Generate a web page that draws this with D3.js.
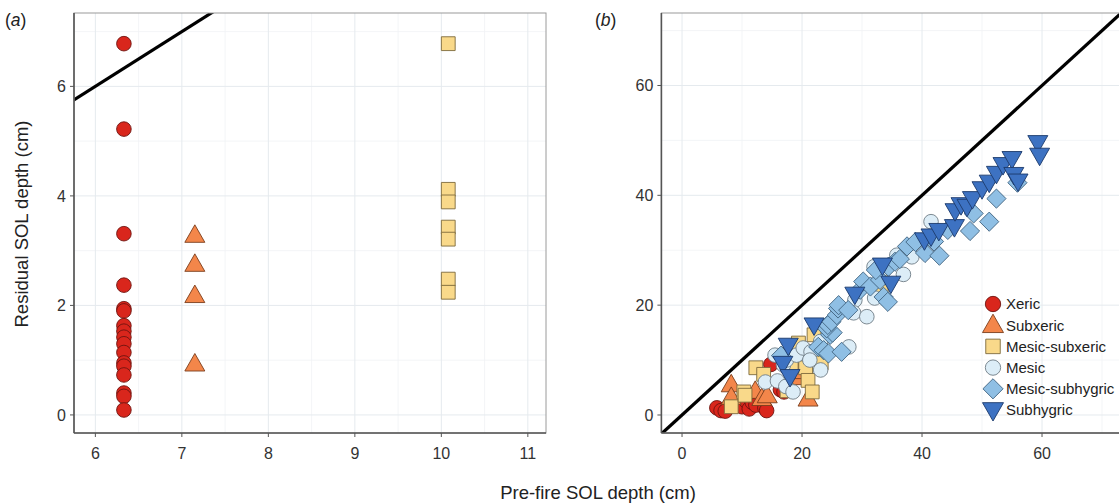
<!DOCTYPE html>
<html>
<head>
<meta charset="utf-8">
<script src="https://cdn.jsdelivr.net/npm/d3@7"></script>
<style>
  body { margin: 0; background: #fff; }
  text { font-family: "Liberation Sans", Arial, sans-serif; }
  .tick-label { font-size: 16px; fill: #333; }
  .axis-title { font-size: 18.5px; fill: #222; }
  .panel-tag { font-size: 17.5px; fill: #222; }
  .legend-label { font-size: 15px; fill: #222; }
</style>
</head>
<body>
<div id="wrapper"></div>
<script>
// panel (a): [pre-fire, residual]
const xericA = [[6.33,6.78],[6.33,5.22],[6.33,3.31],[6.33,2.37],[6.33,1.94],[6.33,1.9],[6.33,1.63],
  [6.33,1.53],[6.33,1.42],[6.33,1.3],[6.33,1.14],[6.33,0.95],[6.33,0.89],[6.33,0.73],
  [6.33,0.4],[6.33,0.34],[6.33,0.09]]
const subxericA = [[7.15,3.28],[7.15,2.75],[7.15,2.18],[7.15,0.93]]
const mesicSubxericA = [[10.08,6.78],[10.08,4.12],[10.08,3.89],[10.08,3.43],[10.08,3.21],[10.08,2.48],[10.08,2.24]]

// panel (b)
const xericB = [[5.8,1.3],[6.5,0.8],[7.2,0.7],[9.5,2.2],[10.0,1.5],[10.5,3.0],[10.8,2.4],[11.2,1.1],
  [11.7,2.3],[12.3,1.8],[13.8,1.3],[14.1,0.8],[14.8,9.2],[16.4,4.6],[17.0,4.2]]
const subxericB = [[8.2,5.5],[8.2,3.2],[12.2,4.3],[13.3,3.0],[14.2,3.5],[19.1,6.8],[19.7,7.9],[21.0,2.9]]
const mesicSubxericB = [[8.2,1.5],[10.3,4.2],[10.5,3.6],[12.3,8.6],[13.6,7.4],[17.5,4.4],[18.2,9.1],
  [19.4,13.1],[20.6,8.6],[21.0,6.3],[21.7,4.2],[22.0,14.6],[23.1,11.2],[23.2,9.5],[33.3,25.9],[33.2,22.5]]
const mesicB = [[13.9,6.0],[15.9,6.2],[17.3,5.2],[18.5,4.2],[16.9,9.1],[15.5,10.9],[17.4,10.0],[19.1,10.9],
  [20.2,12.2],[21.5,11.5],[23.1,13.4],[23.1,8.2],[21.3,10.0],[27.8,12.4],[28.8,20.9],[28.6,18.6],
  [30.8,17.9],[32.1,21.3],[32.0,27.0],[33.0,26.2],[36.9,25.6],[35.8,29.1],[38.3,28.8],[41.5,35.2]]
const mesicSubhygricB = [[16.5,10.8],[22.7,12.4],[23.6,11.8],[24.4,11.2],[26.6,11.5],[24.7,14.6],[25.1,15.0],
  [24.1,15.8],[24.3,16.4],[24.9,17.0],[25.8,18.2],[26.0,19.4],[26.1,20.0],[27.7,19.1],[29.7,22.8],
  [30.2,24.3],[31.4,23.4],[33.6,21.5],[34.3,20.6],[33.0,24.6],[32.3,26.4],[34.4,27.0],[35.5,27.9],
  [36.3,28.4],[37.5,30.7],[38.9,31.5],[40.5,29.5],[42.9,29.0],[42.0,31.6],[44.3,33.7],[48.0,33.5],
  [48.6,36.7],[51.2,35.2],[52.4,39.4],[55.9,42.3]]
const subhygricB = [[16.8,9.4],[17.7,12.7],[18.0,7.0],[22.0,16.4],[28.8,22.0],[33.4,27.3],[34.8,24.0],
  [40.4,31.9],[41.5,32.6],[42.8,33.6],[45.4,34.3],[45.5,37.2],[46.5,38.3],[47.5,38.0],[48.4,39.4],
  [50.0,41.2],[51.2,42.4],[52.4,44.0],[53.5,45.6],[55.0,46.7],[55.3,43.8],[56.0,42.6],[59.3,49.6],[59.6,47.3]]

const groupNames = ["Xeric", "Subxeric", "Mesic-subxeric", "Mesic", "Mesic-subhygric", "Subhygric"]
const ticksA = { x: [6, 7, 8, 9, 10, 11], y: [0, 2, 4, 6] }
const ticksB = { x: [0, 20, 40, 60], y: [0, 20, 40, 60] }

const groupStyle = {
  "Xeric":           { shape: "circle",   fill: "#d9261c", stroke: "#6e1410" },
  "Subxeric":        { shape: "triangle", fill: "#f3864a", stroke: "#7a3d1c" },
  "Mesic-subxeric":  { shape: "square",   fill: "#f9d98a", stroke: "#7d6a3c" },
  "Mesic":           { shape: "circle",   fill: "#dcedf7", stroke: "#6f7d86" },
  "Mesic-subhygric": { shape: "diamond",  fill: "#8fbfe4", stroke: "#40627f" },
  "Subhygric":       { shape: "triDown",  fill: "#3d72c2", stroke: "#1c3a6b" },
}

const shapePath = (shape, k = 1) => {
  const p = d3.path()
  if (shape == "circle") {
    p.arc(0, 0, 7.3 * k, 0, Math.PI * 2)
  } else if (shape == "triangle") {
    const w = 10 * k
    p.moveTo(0, -10.5 * k); p.lineTo(w, 7 * k); p.lineTo(-w, 7 * k); p.closePath()
  } else if (shape == "triDown") {
    const w = 10 * k
    p.moveTo(0, 10.5 * k); p.lineTo(w, -7 * k); p.lineTo(-w, -7 * k); p.closePath()
  } else if (shape == "square") {
    const s = 6.9 * k
    p.rect(-s, -s, 2 * s, 2 * s)
  } else if (shape == "diamond") {
    const s = 9.6 * k
    p.moveTo(0, -s); p.lineTo(s, 0); p.lineTo(0, s); p.lineTo(-s, 0); p.closePath()
  }
  return p.toString()
}

function drawChart() {

  // 1. Dimensions

  const dimensions = { width: 1119, height: 504, top: 13, bottom: 433 }

  const svg = d3.select("#wrapper")
    .append("svg")
      .attr("width", dimensions.width)
      .attr("height", dimensions.height)

  // 2. Scales

  const panels = [
    {
      id: "a",
      x: d3.scaleLinear().domain([5.753, 11.21]).range([74, 546]),
      y: d3.scaleLinear().domain([-0.33, 7.34]).range([dimensions.bottom, dimensions.top]),
      ticks: ticksA,
      minor: { x: [6.5, 7.5, 8.5, 9.5, 10.5], y: [1, 3, 5, 7] },
      tagX: 5,
      data: [["Xeric", xericA], ["Subxeric", subxericA], ["Mesic-subxeric", mesicSubxericA]],
    },
    {
      id: "b",
      x: d3.scaleLinear().domain([-3.44, 73.83]).range([661.4, 1125]),
      y: d3.scaleLinear().domain([-3.28, 73.2]).range([dimensions.bottom, dimensions.top]),
      ticks: ticksB,
      minor: { x: [10, 30, 50, 70], y: [10, 30, 50, 70] },
      tagX: 595,
      data: [["Xeric", xericB], ["Subxeric", subxericB], ["Mesic-subxeric", mesicSubxericB],
             ["Mesic", mesicB], ["Mesic-subhygric", mesicSubhygricB], ["Subhygric", subhygricB]],
    },
  ]

  // 3. Panels

  panels.forEach(panel => {
    const [x0, x1] = panel.x.range()
    const g = svg.append("g")

    g.append("clipPath").attr("id", "clip-" + panel.id)
      .append("rect")
        .attr("x", x0).attr("y", dimensions.top)
        .attr("width", x1 - x0).attr("height", dimensions.bottom - dimensions.top)

    // grid
    const grid = g.append("g")
    grid.selectAll(".minor-x").data(panel.minor.x).join("line")
        .attr("x1", d => panel.x(d)).attr("x2", d => panel.x(d))
        .attr("y1", dimensions.top).attr("y2", dimensions.bottom)
        .attr("stroke", "#f0f3f5").attr("stroke-width", 0.8)
    grid.selectAll(".minor-y").data(panel.minor.y).join("line")
        .attr("x1", x0).attr("x2", x1)
        .attr("y1", d => panel.y(d)).attr("y2", d => panel.y(d))
        .attr("stroke", "#f0f3f5").attr("stroke-width", 0.8)
    grid.selectAll(".major-x").data(panel.ticks.x).join("line")
        .attr("x1", d => panel.x(d)).attr("x2", d => panel.x(d))
        .attr("y1", dimensions.top).attr("y2", dimensions.bottom)
        .attr("stroke", "#e5eaee").attr("stroke-width", 1)
    grid.selectAll(".major-y").data(panel.ticks.y).join("line")
        .attr("x1", x0).attr("x2", x1)
        .attr("y1", d => panel.y(d)).attr("y2", d => panel.y(d))
        .attr("stroke", "#e5eaee").attr("stroke-width", 1)

    // 1:1 line
    const lineDomain = [-10, 100]
    g.append("line")
        .attr("clip-path", `url(#clip-${panel.id})`)
        .attr("x1", panel.x(lineDomain[0])).attr("y1", panel.y(lineDomain[0]))
        .attr("x2", panel.x(lineDomain[1])).attr("y2", panel.y(lineDomain[1]))
        .attr("stroke", "#000").attr("stroke-width", 3.2)

    // points
    panel.data.forEach(([name, values]) => {
      const style = groupStyle[name]
      g.append("g").selectAll("path").data(values).join("path")
          .attr("d", shapePath(style.shape))
          .attr("transform", d => `translate(${panel.x(d[0])},${panel.y(d[1])})`)
          .attr("fill", style.fill)
          .attr("stroke", style.stroke)
          .attr("stroke-width", 0.9)
    })

    // border + axes
    g.append("rect")
        .attr("x", x0).attr("y", dimensions.top)
        .attr("width", x1 - x0).attr("height", dimensions.bottom - dimensions.top)
        .attr("fill", "none").attr("stroke", "#9a9a9a").attr("stroke-width", 1)
    g.append("line")
        .attr("x1", x0).attr("x2", x1).attr("y1", dimensions.bottom).attr("y2", dimensions.bottom)
        .attr("stroke", "#555").attr("stroke-width", 1.6)
    g.append("line")
        .attr("x1", x0).attr("x2", x0).attr("y1", dimensions.top).attr("y2", dimensions.bottom)
        .attr("stroke", "#555").attr("stroke-width", 1.6)

    g.selectAll(".xtick").data(panel.ticks.x).join("line")
        .attr("x1", d => panel.x(d)).attr("x2", d => panel.x(d))
        .attr("y1", dimensions.bottom).attr("y2", dimensions.bottom + 4)
        .attr("stroke", "#555")
    g.selectAll(".xlab").data(panel.ticks.x).join("text")
        .attr("class", "tick-label")
        .attr("x", d => panel.x(d)).attr("y", dimensions.bottom + 26)
        .attr("text-anchor", "middle")
        .text(d => d)
    g.selectAll(".ytick").data(panel.ticks.y).join("line")
        .attr("x1", x0 - 4).attr("x2", x0)
        .attr("y1", d => panel.y(d)).attr("y2", d => panel.y(d))
        .attr("stroke", "#555")
    g.selectAll(".ylab").data(panel.ticks.y).join("text")
        .attr("class", "tick-label")
        .attr("x", x0 - 8).attr("y", d => panel.y(d) + 6)
        .attr("text-anchor", "end")
        .text(d => d)

    const tag = g.append("text").attr("class", "panel-tag")
        .attr("x", panel.tagX).attr("y", 26)
    tag.append("tspan").text("(")
    tag.append("tspan").style("font-style", "italic").text(panel.id)
    tag.append("tspan").text(")")
  })

  // 4. Titles

  svg.append("text").attr("class", "axis-title")
      .attr("x", 598).attr("y", 499)
      .attr("text-anchor", "middle")
      .text("Pre-fire SOL depth (cm)")
  svg.append("text").attr("class", "axis-title")
      .attr("transform", "translate(28,224) rotate(-90)")
      .attr("text-anchor", "middle")
      .text("Residual SOL depth (cm)")

  // 5. Legend

  const legend = svg.append("g").attr("transform", "translate(993,304)")
  groupNames.forEach((name, i) => {
    const style = groupStyle[name]
    const row = legend.append("g").attr("transform", `translate(0,${i * 21.2})`)
    row.append("path")
        .attr("d", shapePath(style.shape, 1.05))
        .attr("fill", style.fill)
        .attr("stroke", style.stroke)
        .attr("stroke-width", 0.9)
    row.append("text").attr("class", "legend-label")
        .attr("x", 13).attr("y", 5.4)
        .text(name)
  })
}
drawChart()
</script>
</body>
</html>
